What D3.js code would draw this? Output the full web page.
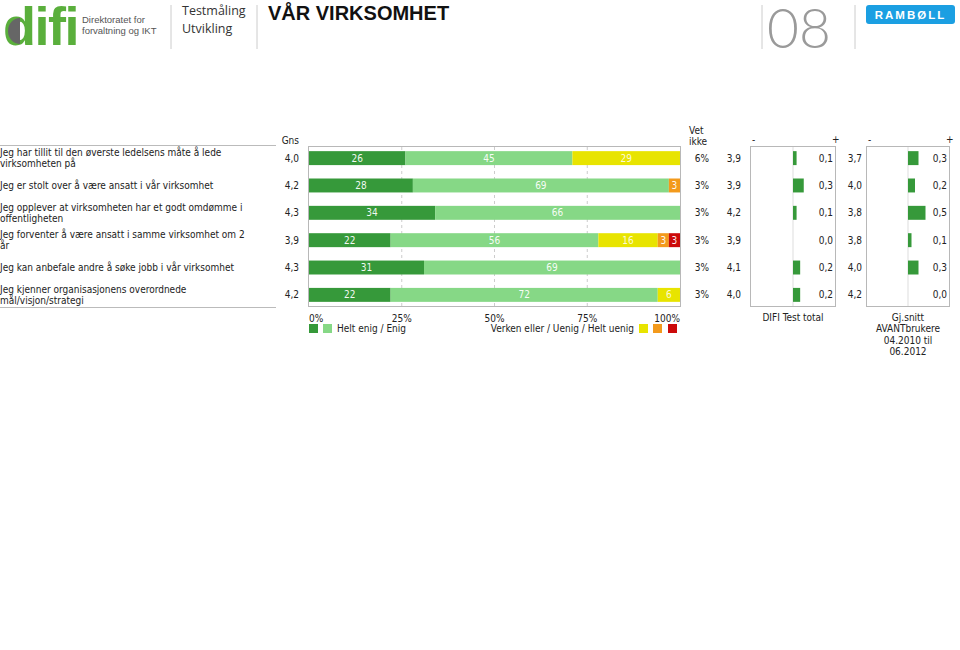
<!DOCTYPE html>
<html><head><meta charset="utf-8">
<script src="https://cdn.jsdelivr.net/npm/d3@7"></script>
<style>
html,body{margin:0;padding:0;background:#fff;}
svg{display:block;font-family:"DejaVu Sans Condensed","DejaVu Sans",Verdana,sans-serif;}
</style></head>
<body>
<svg id="c" width="960" height="650"></svg>
<script>
// ---------- data ----------
const questions = [
  ["Jeg har tillit til den øverste ledelsens måte å lede", "virksomheten på"],
  ["Jeg er stolt over å være ansatt i vår virksomhet"],
  ["Jeg opplever at virksomheten har et godt omdømme i", "offentligheten"],
  ["Jeg forventer å være ansatt i samme virksomhet om 2", "år"],
  ["Jeg kan anbefale andre å søke jobb i vår virksomhet"],
  ["Jeg kjenner organisasjonens overordnede", "mål/visjon/strategi"]
];
const gns        = [4.0, 4.2, 4.3, 3.9, 4.3, 4.2];
const heltEnig   = [26, 28, 34, 22, 31, 22];
const enig       = [45, 69, 66, 56, 69, 72];
const verken     = [29, 0, 0, 16, 0, 6];
const uenig      = [0, 3, 0, 3, 0, 0];
const heltUenig  = [0, 0, 0, 3, 0, 0];
const vetIkke    = [6, 3, 3, 3, 3, 3];
const difiTotal  = [3.9, 3.9, 4.2, 3.9, 4.1, 4.0];
const difiDiff   = [0.1, 0.3, 0.1, 0.0, 0.2, 0.2];
const avantAvg   = [3.7, 4.0, 3.8, 3.8, 4.0, 4.2];
const avantDiff  = [0.3, 0.2, 0.5, 0.1, 0.3, 0.0];
const pctTicks   = [0, 25, 50, 75, 100];
const seriesNames = ["Helt enig", "Enig", "Verken eller", "Uenig", "Helt uenig"];
const seriesColors = ["#36993a", "#86d886", "#e8e400", "#f39a1c", "#cc0a0a"];

const fmt = v => d3.format(".1f")(v).replace(".", ",");
const svg = d3.select("#c");

// ---------- header ----------
const hdr = svg.append("g");
hdr.append("text").attr("x", 3).attr("y", 45).attr("font-family", "'Liberation Sans',Arial,sans-serif")
  .attr("font-weight", "bold").attr("font-size", 54).attr("fill", "#5aaf3c").attr("letter-spacing", -1.5).text("difi");
hdr.append("path").attr("d", "M20,18 A12,13 0 1,0 20,44 Z").attr("fill", "#666");
hdr.append("text").attr("x", 82).attr("y", 23).attr("font-family", "'Liberation Sans',Arial,sans-serif")
  .attr("font-size", 9.5).attr("fill", "#555").text("Direktoratet for");
hdr.append("text").attr("x", 82).attr("y", 34).attr("font-family", "'Liberation Sans',Arial,sans-serif")
  .attr("font-size", 9.5).attr("fill", "#555").text("forvaltning og IKT");
[171, 257, 762, 855].forEach(xx => hdr.append("line").attr("x1", xx).attr("x2", xx).attr("y1", 5).attr("y2", 49)
  .attr("stroke", "#ccc").attr("stroke-width", 1));
hdr.append("text").attr("x", 182).attr("y", 15).attr("font-family", "'Open Sans',sans-serif")
  .attr("font-size", 12.5).attr("fill", "#333").text("Testmåling");
hdr.append("text").attr("x", 182).attr("y", 33).attr("font-family", "'Open Sans',sans-serif")
  .attr("font-size", 12.5).attr("fill", "#333").text("Utvikling");
hdr.append("text").attr("x", 268).attr("y", 20).attr("font-family", "'Liberation Sans',Arial,sans-serif")
  .attr("font-weight", "bold").attr("font-size", 20).attr("fill", "#111").text("VÅR VIRKSOMHET");
hdr.append("text").attr("x", 767).attr("y", 48).attr("font-family", "Lato,'Open Sans',sans-serif")
  .attr("font-weight", 300).attr("font-size", 55).attr("fill", "#9a9a9a").text("08");
hdr.append("rect").attr("x", 866).attr("y", 5).attr("width", 89).attr("height", 19).attr("rx", 3).attr("fill", "#1b9fe2");
hdr.append("text").attr("x", 910.5).attr("y", 19).attr("text-anchor", "middle").attr("font-family", "'Liberation Sans',Arial,sans-serif")
  .attr("font-weight", "bold").attr("font-size", 11.5).attr("letter-spacing", 2).attr("fill", "#fff").text("RAMBØLL");

// ---------- layout ----------
const plotTop = 146.5, plotBottom = 306.5;
const y = d3.scaleBand().domain(d3.range(questions.length)).range([plotTop, plotBottom]).paddingInner(0.49).paddingOuter(0.17);
const x = d3.scaleLinear().domain([0, 100]).range([309, 680]);
const fs = 10;

// left labels and lines
svg.append("line").attr("x1", 0).attr("x2", 276).attr("y1", 145.5).attr("y2", 145.5).attr("stroke", "#bbb");
svg.append("line").attr("x1", 0).attr("x2", 276).attr("y1", 307.5).attr("y2", 307.5).attr("stroke", "#bbb");
questions.forEach((q, i) => {
  const cy = y(i) + y.bandwidth() / 2;
  const t = svg.append("text").attr("x", 0).attr("font-size", fs).attr("fill", "#222");
  q.forEach((line, j) => {
    t.append("tspan").attr("x", 0).attr("y", cy + 3.5 + (j - (q.length - 1) / 2) * 11).text(line);
  });
  svg.append("text").attr("x", 299).attr("y", cy + 3.5).attr("text-anchor", "end").attr("font-size", fs).attr("fill", "#222").text(fmt(gns[i]));
  svg.append("text").attr("x", 709).attr("y", cy + 3.5).attr("text-anchor", "end").attr("font-size", fs).attr("fill", "#222").text(vetIkke[i] + "%");
  svg.append("text").attr("x", 741).attr("y", cy + 3.5).attr("text-anchor", "end").attr("font-size", fs).attr("fill", "#222").text(fmt(difiTotal[i]));
  svg.append("text").attr("x", 862).attr("y", cy + 3.5).attr("text-anchor", "end").attr("font-size", fs).attr("fill", "#222").text(fmt(avantAvg[i]));
});
svg.append("text").attr("x", 299).attr("y", 144).attr("text-anchor", "end").attr("font-size", fs).attr("fill", "#222").text("Gns");
svg.append("text").attr("x", 689).attr("y", 134).attr("font-size", fs).attr("fill", "#222").text("Vet");
svg.append("text").attr("x", 689).attr("y", 145).attr("font-size", fs).attr("fill", "#222").text("ikke");

// main plot frame + grid
const g = svg.append("g");
g.append("rect").attr("x", 308.5).attr("y", 146.5).attr("width", 372).attr("height", 160).attr("fill", "none").attr("stroke", "#b8b8b8");
pctTicks.filter(v => v > 0 && v < 100).forEach(v => {
  g.append("line").attr("x1", x(v)).attr("x2", x(v)).attr("y1", 147).attr("y2", 306)
    .attr("stroke", "#ccc").attr("stroke-dasharray", "3,3");
});

// stacked bars
const rows = questions.map((q, i) => ({ i, vals: [heltEnig[i], enig[i], verken[i], uenig[i], heltUenig[i]] }));
rows.forEach(r => {
  let acc = 0;
  r.vals.forEach((v, k) => {
    if (v > 0) {
      g.append("rect").attr("x", x(acc)).attr("y", y(r.i)).attr("width", x(acc + v) - x(acc)).attr("height", y.bandwidth())
        .attr("fill", seriesColors[k]);
      g.append("text").attr("x", (x(acc) + x(acc + v)) / 2).attr("y", y(r.i) + y.bandwidth() / 2 + 3.5)
        .attr("text-anchor", "middle").attr("font-size", fs).attr("fill", "#fff").attr("fill-opacity", k === 2 ? 0.85 : 0.95).text(v);
    }
    acc += v;
  });
});

// axis ticks labels
pctTicks.forEach(v => {
  svg.append("text").attr("x", x(v)).attr("y", 322)
    .attr("text-anchor", v === 0 ? "start" : v === 100 ? "end" : "middle").attr("font-size", fs).attr("fill", "#222").text(v + "%");
});

// legend
const sq = 9;
[[309, 0], [323, 1]].forEach(([lx, k]) => svg.append("rect").attr("x", lx).attr("y", 324).attr("width", sq).attr("height", sq).attr("fill", seriesColors[k]));
svg.append("text").attr("x", 337).attr("y", 332).attr("font-size", fs).attr("fill", "#222").text(seriesNames[0] + " / " + seriesNames[1]);
svg.append("text").attr("x", 634).attr("y", 332).attr("text-anchor", "end").attr("font-size", fs).attr("fill", "#222")
  .text(seriesNames[2] + " / " + seriesNames[3] + " / " + seriesNames[4]);
[[639, 2], [653, 3], [668, 4]].forEach(([lx, k]) => svg.append("rect").attr("x", lx).attr("y", 324).attr("width", sq).attr("height", sq).attr("fill", seriesColors[k]));

// diff panels
function diffPanel(x0, x1, diffs, labelLines) {
  const dx = d3.scaleLinear().domain([-1.2, 1.2]).range([x0, x1]);
  const p = svg.append("g");
  p.append("rect").attr("x", x0 + 0.5).attr("y", 146.5).attr("width", x1 - x0 - 1).attr("height", 160).attr("fill", "none").attr("stroke", "#b8b8b8");
  p.append("line").attr("x1", dx(0)).attr("x2", dx(0)).attr("y1", 147).attr("y2", 306).attr("stroke", "#ddd");
  p.append("text").attr("x", x0 + 2).attr("y", 143).attr("font-size", fs).attr("fill", "#222").text("-");
  p.append("text").attr("x", x1 - 4).attr("y", 143).attr("font-size", fs).attr("fill", "#222").text("+");
  diffs.forEach((v, i) => {
    if (v !== 0) {
      p.append("rect").attr("x", Math.min(dx(0), dx(v))).attr("y", y(i)).attr("width", Math.abs(dx(v) - dx(0))).attr("height", y.bandwidth())
        .attr("fill", seriesColors[0]);
    }
    p.append("text").attr("x", x1 - 3).attr("y", y(i) + y.bandwidth() / 2 + 3.5).attr("text-anchor", "end").attr("font-size", fs).attr("fill", "#222").text(fmt(v));
  });
  const t = p.append("text").attr("text-anchor", "middle").attr("font-size", fs).attr("fill", "#222");
  labelLines.forEach((l, j) => t.append("tspan").attr("x", dx(0)).attr("y", 321 + j * 11.3).text(l));
}
diffPanel(750, 836, difiDiff, ["DIFI Test total"]);
diffPanel(866, 950, avantDiff, ["Gj.snitt", "AVANTbrukere", "04.2010 til", "06.2012"]);
</script>
</body></html>
